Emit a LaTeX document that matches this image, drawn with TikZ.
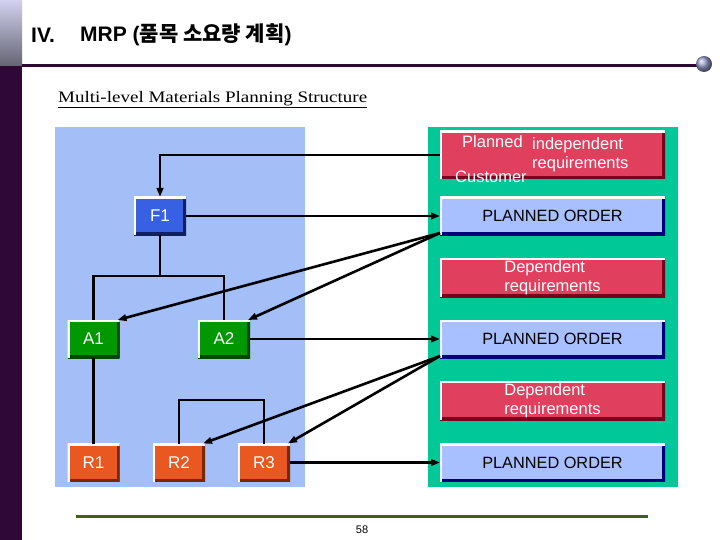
\documentclass[tikz,border=0pt]{standalone}
\usepackage{fontspec}
\usepackage{graphicx}
\setmainfont{Liberation Sans}
\newfontfamily\serifx{Liberation Serif}
\newfontfamily\kr{Noto Sans CJK KR}
\usetikzlibrary{arrows.meta}
\definecolor{darkpurple}{RGB}{48,8,56}
\definecolor{bluepanel}{RGB}{164,190,248}
\definecolor{greenpanel}{RGB}{0,200,150}
\definecolor{redbox}{RGB}{224,64,94}
\definecolor{redshadow}{RGB}{120,0,30}
\definecolor{bluebox}{RGB}{168,192,255}
\definecolor{blueshadow}{RGB}{0,0,120}
\definecolor{fblue}{RGB}{56,96,226}
\definecolor{fshadow}{RGB}{16,32,96}
\definecolor{agreen}{RGB}{0,152,0}
\definecolor{ashadow}{RGB}{0,70,0}
\definecolor{rorange}{RGB}{232,88,32}
\definecolor{rshadow}{RGB}{120,40,0}
\definecolor{footgreen}{RGB}{60,100,20}
\tikzset{
  bev/.style 2 args={fill=#1, inner sep=0pt, outer sep=0pt,
    path picture={
      \draw[#2,line width=6pt] (path picture bounding box.north east) -- (path picture bounding box.south east) -- (path picture bounding box.south west);
      \draw[white,line width=4pt] (path picture bounding box.south west) -- (path picture bounding box.north west) -- (path picture bounding box.north east);
    }},
  redrq/.style={bev={redbox}{redshadow}, minimum width=225pt, minimum height=39pt, text=white, font=\fontsize{16.5}{19}\selectfont, align=left},
  porder/.style={bev={bluebox}{blueshadow}, minimum width=225pt, minimum height=38pt, text=black, font=\fontsize{16.3}{18}\selectfont},
  item/.style={minimum width=52pt, minimum height=38pt, text=white, font=\fontsize{17}{18}\selectfont},
  fitem/.style={item, bev={fblue}{fshadow}},
  aitem/.style={item, bev={agreen}{ashadow}},
  ritem/.style={item, bev={rorange}{rshadow}},
  conn/.style={line width=2.6pt, black},
  arr/.style={conn, -{Triangle[length=9pt,width=6.5pt]}},
  wtext/.style={text=white, inner sep=0pt, font=\fontsize{16.5}{19}\selectfont}
}
\begin{document}
\begin{tikzpicture}[x=1pt,y=-1pt]
\useasboundingbox (0,0) rectangle (720,540);
\fill[white] (0,0) rectangle (720,540);
% left strip
\shade[top color={rgb,255:red,210;green,210;blue,240}, bottom color={rgb,255:red,100;green,100;blue,115}] (0,0) rectangle (22,66);
\fill[darkpurple] (0,66) rectangle (22,540);
% title
\node[anchor=west, inner sep=0pt, font=\bfseries\fontsize{21}{23}\selectfont] (title1) at (31,35) {IV.};
\node[anchor=west, inner sep=0pt, font=\bfseries\fontsize{21}{23}\selectfont] (title2) at (80,35) {MRP ({\kr 품목 소요량 계획})};
\draw[darkpurple, line width=3pt] (22,66) -- (697,66);
\shade[ball color={rgb,255:red,150;green,155;blue,200}] (704,64) circle (8);
% subtitle
\node[anchor=west, inner sep=0pt, font=\serifx\fontsize{16}{18}\selectfont] (sub) at (58,100) {\underline{\resizebox{309pt}{\height}{Multi-level Materials Planning Structure}}};
% panels
\fill[bluepanel] (55,127) rectangle (305,487);
\fill[greenpanel] (428,127) rectangle (678,487);
% right boxes
\node[redrq, minimum height=48pt] (ip) at (552.5,155) {};
\node[wtext, anchor=west] (t1) at (462,142) {Planned};
\node[wtext, anchor=west] (t2) at (532,145) {independent};
\node[wtext, anchor=west] (t3) at (532,164) {requirements};
\node[wtext, anchor=west] (t4) at (455,177) {Customer};
\node[porder] (po1) at (552.5,216) {PLANNED ORDER};
\node[redrq] (dr1) at (552.5,277.5) {Dependent\\requirements};
\node[porder] (po2) at (552.5,339) {PLANNED ORDER};
\node[redrq] (dr2) at (552.5,400.5) {Dependent\\requirements};
\node[porder] (po3) at (552.5,462.5) {PLANNED ORDER};
% left items
\node[fitem] (f1) at (160,216) {F1};
\node[aitem] (a1) at (93.5,339) {A1};
\node[aitem] (a2) at (224,339) {A2};
\node[ritem] (r1) at (93.5,462.5) {R1};
\node[ritem] (r2) at (179,462.5) {R2};
\node[ritem] (r3) at (264,462.5) {R3};
% tree structure
\coordinate (j1) at (160,276);
\coordinate (j2) at (179,400);
\draw[conn] (f1.south) -- (j1);
\draw[conn] (j1) -| (a1.north);
\draw[conn] (j1) -| (a2.north);
\draw[conn] (a1.south) -- (r1.north);
\draw[conn] (r2.north) -- (j2) -| (r3.north);
% connectors to/from MRP boxes
\draw[arr] (ip.west) -| (f1.north);
\draw[arr] (f1.east) -- (po1.west);
\draw[arr] ([yshift=2pt]po1.south west) -- ([xshift=-2pt]a1.north east);
\draw[arr] ([yshift=2pt]po1.south west) -- ([xshift=-2pt]a2.north east);
\draw[arr] (a2.east) -- (po2.west);
\draw[arr] ([yshift=2pt]po2.south west) -- ([xshift=-2pt]r2.north east);
\draw[arr] ([yshift=2pt]po2.south west) -- ([xshift=-2pt]r3.north east);
\draw[arr] (r3.east) -- (po3.west);
% footer
\draw[footgreen, line width=3pt] (76,516) -- (648,516);
\node[font=\fontsize{11}{12}\selectfont] (pg) at (362,530) {58};
\end{tikzpicture}
\end{document}
